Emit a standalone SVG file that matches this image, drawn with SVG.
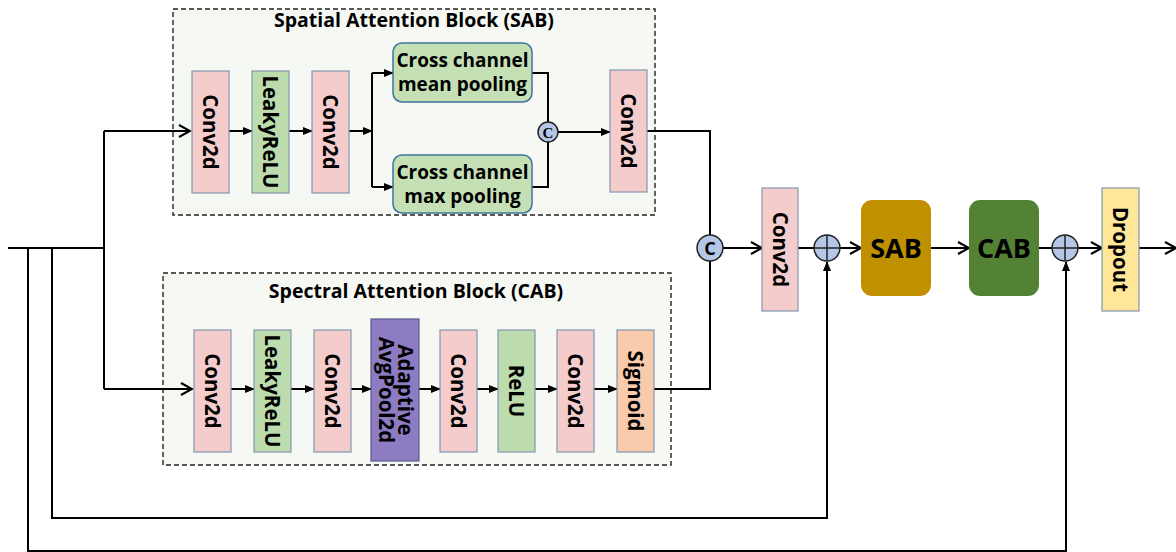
<svg xmlns="http://www.w3.org/2000/svg" width="1176" height="552" viewBox="0 0 1176 552">
<style>
.t{font-family:"Open Sans","Noto Sans","Liberation Sans",sans-serif;font-weight:bold;fill:#000}
.v{font-size:20.5px}
.blk{fill:#f6f8f3;stroke:#222;stroke-width:1.4;stroke-dasharray:5 3}
.pink{fill:#f4cccc;stroke:#8497b0;stroke-width:1.2}
.green{fill:#bcdcae;stroke:#8497b0;stroke-width:1.2}
.pool{fill:#c5e0b4;stroke:#41719c;stroke-width:1.5}
.circ{fill:#b4c7e7;stroke:#222;stroke-width:1.5}
.ln{fill:none;stroke:#000;stroke-width:2}
.fa{marker-end:url(#tri)}
.oa{marker-end:url(#vee)}
</style>
<defs>
<marker id="tri" markerWidth="10" markerHeight="10" refX="9" refY="5" orient="auto" markerUnits="userSpaceOnUse">
<path d="M0,1 L10,5 L0,9 Z" fill="#000"/>
</marker>
<marker id="vee" markerWidth="14" markerHeight="14" refX="12" refY="7" orient="auto" markerUnits="userSpaceOnUse">
<path d="M1,1 L12,7 L1,13" fill="none" stroke="#000" stroke-width="2"/>
</marker>
</defs>

<g id="sab-block">
<rect class="blk" x="173" y="9" width="482" height="206"/>
<text class="t" x="414" y="27" font-size="19.5" text-anchor="middle">Spatial Attention Block (SAB)</text>
</g>
<g id="cab-block">
<rect class="blk" x="163" y="273" width="508" height="192"/>
<text class="t" x="416" y="298" font-size="19.5" text-anchor="middle">Spectral Attention Block (CAB)</text>
</g>

<g id="connectors">
<path class="ln" d="M8,248 H104"/>
<path class="ln" d="M104,131 V389"/>
<path class="ln oa" d="M104,131 H190"/>
<path class="ln oa" d="M104,389 H192"/>
<path class="ln fa" d="M52,248 V518 H827 V262"/>
<path class="ln fa" d="M28,248 V551 H1066 V262"/>
<path class="ln fa" d="M229,131 H252"/>
<path class="ln fa" d="M289,131 H312"/>
<path class="ln fa" d="M349,131 H372"/>
<path class="ln" d="M372,73 V187"/>
<path class="ln fa" d="M372,73 H393"/>
<path class="ln fa" d="M372,187 H393"/>
<path class="ln" d="M532,73 H548 V122"/>
<path class="ln" d="M532,187 H548 V142"/>
<path class="ln fa" d="M558,132 H610"/>
<path class="ln" d="M647,131 H710 V235"/>
<path class="ln fa" d="M231,389 H254"/>
<path class="ln fa" d="M291,389 H314"/>
<path class="ln fa" d="M351,389 H371"/>
<path class="ln fa" d="M419,389 H440"/>
<path class="ln fa" d="M477,389 H498"/>
<path class="ln fa" d="M535,389 H557"/>
<path class="ln fa" d="M594,389 H617"/>
<path class="ln" d="M654,389 H710 V261"/>
<path class="ln oa" d="M723,248 H762"/>
<path class="ln" d="M798,248 H814"/>
<path class="ln oa" d="M840,248 H861"/>
<path class="ln oa" d="M931,248 H969"/>
<path class="ln" d="M1039,248 H1052"/>
<path class="ln oa" d="M1078,248 H1102"/>
<path class="ln oa" d="M1139,248 H1176"/>
</g>

<g id="sab-conv1"><rect class="pink" x="192" y="71" width="37" height="122"/><text class="t v" transform="translate(210.5,132) rotate(90)" text-anchor="middle" dy="7.5">Conv2d</text></g>
<g id="sab-leaky"><rect class="green" x="252" y="71" width="37" height="122"/><text class="t v" transform="translate(270.5,132) rotate(90)" text-anchor="middle" dy="7.5">LeakyReLU</text></g>
<g id="sab-conv2"><rect class="pink" x="312" y="71" width="37" height="122"/><text class="t v" transform="translate(330.5,132) rotate(90)" text-anchor="middle" dy="7.5">Conv2d</text></g>
<g id="sab-mean"><rect class="pool" x="393" y="43" width="139" height="59" rx="9"/><text class="t" x="462.5" y="67" font-size="19" text-anchor="middle">Cross channel</text><text class="t" x="462.5" y="91" font-size="19" text-anchor="middle">mean pooling</text></g>
<g id="sab-max"><rect class="pool" x="393" y="155" width="139" height="58" rx="9"/><text class="t" x="462.5" y="179" font-size="19" text-anchor="middle">Cross channel</text><text class="t" x="462.5" y="203" font-size="19" text-anchor="middle">max pooling</text></g>
<g id="sab-concat"><circle class="circ" cx="548" cy="132" r="10"/><text x="548" y="137.5" font-family="Liberation Serif,serif" font-weight="bold" font-size="15" text-anchor="middle">C</text></g>
<g id="sab-conv3"><rect class="pink" x="610" y="70" width="37" height="122"/><text class="t v" transform="translate(628.5,131) rotate(90)" text-anchor="middle" dy="7.5">Conv2d</text></g>

<g id="cab-conv1"><rect class="pink" x="194" y="330" width="37" height="122"/><text class="t v" transform="translate(212.5,391) rotate(90)" text-anchor="middle" dy="7.5">Conv2d</text></g>
<g id="cab-leaky"><rect class="green" x="254" y="330" width="37" height="122"/><text class="t v" transform="translate(272.5,391) rotate(90)" text-anchor="middle" dy="7.5">LeakyReLU</text></g>
<g id="cab-conv2"><rect class="pink" x="314" y="330" width="37" height="122"/><text class="t v" transform="translate(332.5,391) rotate(90)" text-anchor="middle" dy="7.5">Conv2d</text></g>
<g id="cab-pool"><rect x="371" y="319" width="48" height="142" fill="#8e7cc3" stroke="#5a5a8a" stroke-width="1.2"/><text class="t v" transform="translate(395,390) rotate(90)" text-anchor="middle"><tspan x="0" dy="-3">Adaptive</tspan><tspan x="0" dy="19">AvgPool2d</tspan></text></g>
<g id="cab-conv3"><rect class="pink" x="440" y="330" width="37" height="122"/><text class="t v" transform="translate(458.5,391) rotate(90)" text-anchor="middle" dy="7.5">Conv2d</text></g>
<g id="cab-relu"><rect class="green" x="498" y="330" width="37" height="122"/><text class="t v" transform="translate(516.5,391) rotate(90)" text-anchor="middle" dy="7.5">ReLU</text></g>
<g id="cab-conv4"><rect class="pink" x="557" y="330" width="37" height="122"/><text class="t v" transform="translate(575.5,391) rotate(90)" text-anchor="middle" dy="7.5">Conv2d</text></g>
<g id="cab-sigmoid"><rect x="617" y="330" width="37" height="122" fill="#f8cbad" stroke="#8497b0" stroke-width="1.2"/><text class="t v" transform="translate(635.5,391) rotate(90)" text-anchor="middle" dy="7.5">Sigmoid</text></g>

<g id="concat"><circle class="circ" cx="710" cy="248" r="13"/><text class="t" x="710" y="254.5" font-size="18" text-anchor="middle">C</text></g>
<g id="conv-main"><rect class="pink" x="762" y="188" width="36" height="123"/><text class="t v" transform="translate(780,249.5) rotate(90)" text-anchor="middle" dy="7.5">Conv2d</text></g>
<g id="add1"><circle class="circ" cx="827" cy="248" r="13"/><path d="M814,248 H840 M827,235 V261" stroke="#222" stroke-width="1.5"/></g>
<g id="sab"><rect x="861" y="200" width="70" height="96" rx="11" fill="#bf9000"/><text class="t" x="896" y="258" font-size="27" text-anchor="middle">SAB</text></g>
<g id="cab"><rect x="969" y="200" width="70" height="96" rx="11" fill="#548235"/><text class="t" x="1004" y="258" font-size="27" text-anchor="middle">CAB</text></g>
<g id="add2"><circle class="circ" cx="1065" cy="248" r="13"/><path d="M1052,248 H1078 M1065,235 V261" stroke="#222" stroke-width="1.5"/></g>
<g id="dropout"><rect x="1102" y="188" width="37" height="123" fill="#ffe699" stroke="#8497b0" stroke-width="1.2"/><text class="t v" transform="translate(1120.5,249.5) rotate(90)" text-anchor="middle" dy="7.5">Dropout</text></g>
</svg>
